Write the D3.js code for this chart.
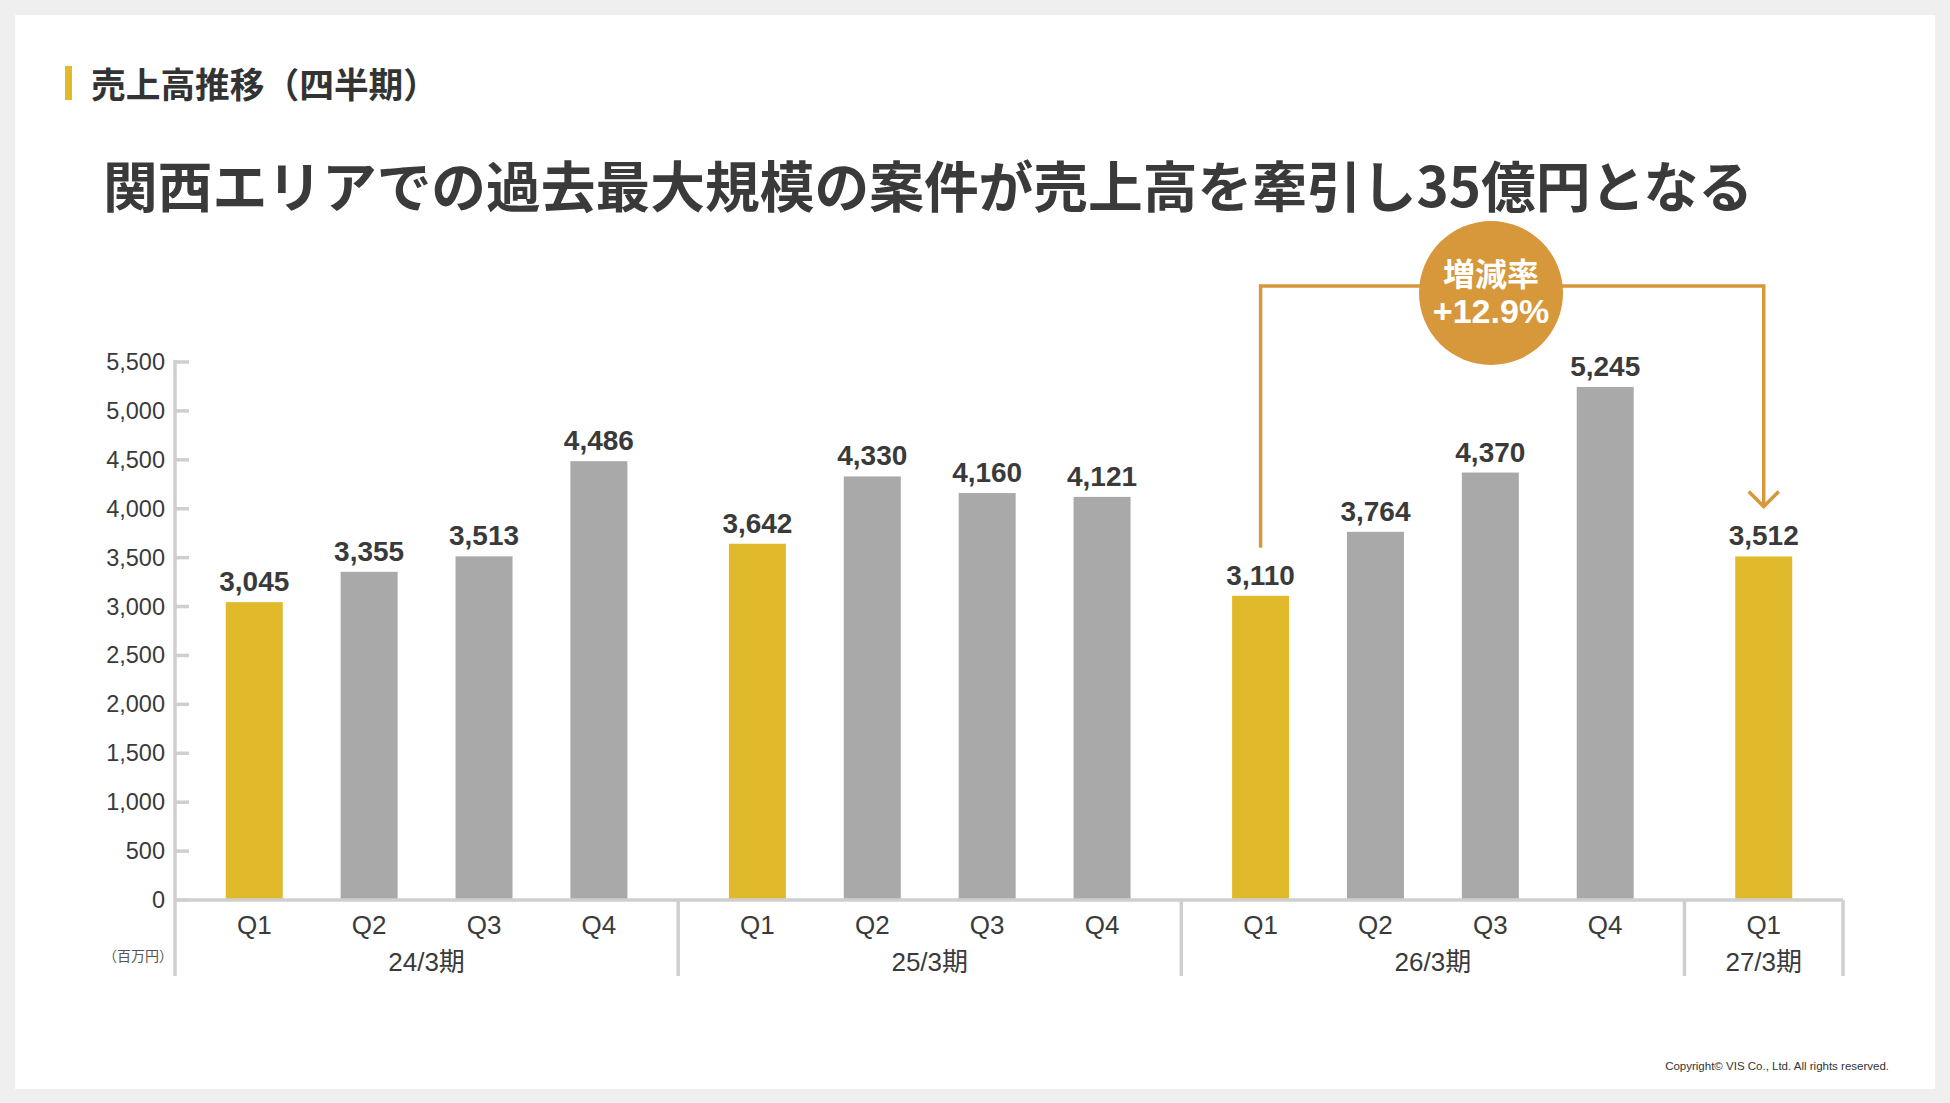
<!DOCTYPE html>
<html lang="ja">
<head>
<meta charset="UTF-8">
<title>売上高推移（四半期）</title>
<script src="https://d3js.org/d3.v7.min.js"></script>
<style>
  body { margin: 0; background: #efefef; }
  svg { display: block; }
  .jp { font-family: "Noto Sans CJK JP", sans-serif; }
  .num { font-family: "Liberation Sans", "Noto Sans CJK JP", sans-serif; }
</style>
</head>
<body>
<svg width="1950" height="1103"></svg>
<script>
// data
const fiscalYears = ["24/3期", "25/3期", "26/3期", "27/3期"];
const quarterCounts = [4, 4, 4, 1];
const quarterLabels = ["Q1", "Q2", "Q3", "Q4", "Q1", "Q2", "Q3", "Q4", "Q1", "Q2", "Q3", "Q4", "Q1"];
const salesValues = [3045, 3355, 3513, 4486, 3642, 4330, 4160, 4121, 3110, 3764, 4370, 5245, 3512];
const yTicks = [0, 500, 1000, 1500, 2000, 2500, 3000, 3500, 4000, 4500, 5000, 5500];
const growthRate = "+12.9%";

const yellow = "#e1ba2b", gray = "#a9a9a9", orange = "#d6983a", ink = "#3a3a3a", axisGray = "#cfcfcf";

const svg = d3.select("svg");

// card
svg.append("rect").attr("x", 15).attr("y", 15).attr("width", 1920).attr("height", 1074).attr("fill", "#fff");

// section header
svg.append("rect").attr("x", 65).attr("y", 66).attr("width", 7).attr("height", 34).attr("fill", yellow);
svg.append("text").attr("class", "jp").attr("x", 91).attr("y", 98)
  .attr("font-size", 35).attr("font-weight", 700).attr("fill", "#333")
  .attr("textLength", 347).attr("lengthAdjust", "spacingAndGlyphs")
  .text("売上高推移（四半期）");

// headline
svg.append("text").attr("class", "jp").attr("x", 103).attr("y", 207)
  .attr("font-size", 55).attr("font-weight", 700).attr("fill", ink)
  .attr("textLength", 1650).attr("lengthAdjust", "spacingAndGlyphs")
  .text("関西エリアでの過去最大規模の案件が売上高を牽引し35億円となる");

// scales
const pad = 0.19;
const groupStart = [];
let acc = 0;
quarterCounts.forEach(n => { groupStart.push(acc); acc += n + 2 * pad; });
const totalUnits = acc;

const x = d3.scaleLinear().domain([0, totalUnits]).range([175, 1843]);
const y = d3.scaleLinear().domain([0, 5500]).range([900, 362]);

const bars = [];
let idx = 0;
quarterCounts.forEach((n, g) => {
  for (let k = 0; k < n; k++) {
    bars.push({
      value: salesValues[idx],
      quarter: quarterLabels[idx],
      group: g,
      center: groupStart[g] + pad + k + 0.5
    });
    idx++;
  }
});

const barW = 57;

// y axis
const yAxis = svg.append("g");
yAxis.append("line").attr("x1", 175).attr("x2", 175).attr("y1", 360).attr("y2", 976)
  .attr("stroke", axisGray).attr("stroke-width", 3.5);
yAxis.selectAll(".tick").data(yTicks).enter().append("line")
  .attr("x1", 175).attr("x2", 189)
  .attr("y1", d => y(d)).attr("y2", d => y(d))
  .attr("stroke", axisGray).attr("stroke-width", 3.5);
yAxis.selectAll(".tl").data(yTicks).enter().append("text")
  .attr("class", "num").attr("x", 165).attr("y", d => y(d) + 8)
  .attr("text-anchor", "end").attr("font-size", 23.5).attr("fill", ink)
  .text(d => d3.format(",")(d));

svg.append("text").attr("class", "jp").attr("x", 103).attr("y", 961)
  .attr("font-size", 14).attr("fill", "#555").text("（百万円）");

// bars
svg.selectAll(".bar").data(bars).enter().append("rect")
  .attr("x", d => x(d.center) - barW / 2)
  .attr("y", d => y(d.value))
  .attr("width", barW)
  .attr("height", d => y(0) - y(d.value))
  .attr("fill", d => d.quarter === "Q1" ? yellow : gray);

svg.selectAll(".val").data(bars).enter().append("text")
  .attr("class", "num")
  .attr("x", d => x(d.center)).attr("y", d => y(d.value) - 11)
  .attr("text-anchor", "middle").attr("font-size", 28).attr("font-weight", 700)
  .attr("fill", ink).text(d => d3.format(",")(d.value));

// x axis
svg.append("line").attr("x1", 175).attr("x2", x(totalUnits)).attr("y1", y(0)).attr("y2", y(0))
  .attr("stroke", axisGray).attr("stroke-width", 3.5);
const dividers = groupStart.slice(1).concat([totalUnits]);
svg.selectAll(".div").data(dividers).enter().append("line")
  .attr("x1", d => x(d)).attr("x2", d => x(d))
  .attr("y1", y(0)).attr("y2", 976)
  .attr("stroke", axisGray).attr("stroke-width", 3.5);

svg.selectAll(".ql").data(bars).enter().append("text")
  .attr("class", "num").attr("x", d => x(d.center)).attr("y", 934)
  .attr("text-anchor", "middle").attr("font-size", 26).attr("fill", ink)
  .text(d => d.quarter);

svg.selectAll(".gl").data(fiscalYears).enter().append("text")
  .attr("class", "num")
  .attr("x", (d, g) => x(groupStart[g] + (quarterCounts[g] + 2 * pad) / 2))
  .attr("y", 971)
  .attr("text-anchor", "middle").attr("font-size", 26).attr("fill", ink)
  .text(d => d);

// growth bracket 26/3 Q1 -> 27/3 Q1
const from = bars[8], to = bars[12];
const x0 = x(from.center), x1 = x(to.center);
const topY = 286;
const fromY = y(from.value) - 48;
const toY = y(to.value) - 50;
svg.append("path")
  .attr("d", `M${x0},${fromY} V${topY} H${x1} V${toY}`)
  .attr("fill", "none").attr("stroke", orange).attr("stroke-width", 3.5);
svg.append("path")
  .attr("d", `M${x1 - 15},${toY - 15} L${x1},${toY} L${x1 + 15},${toY - 15}`)
  .attr("fill", "none").attr("stroke", orange).attr("stroke-width", 3.5);

const cx = 1491, cy = 293;
svg.append("circle").attr("cx", cx).attr("cy", cy).attr("r", 72).attr("fill", orange);
svg.append("text").attr("class", "jp").attr("x", cx).attr("y", cy - 7)
  .attr("text-anchor", "middle").attr("font-size", 32).attr("font-weight", 700).attr("fill", "#fff")
  .text("増減率");
svg.append("text").attr("class", "num").attr("x", cx).attr("y", cy + 30)
  .attr("text-anchor", "middle").attr("font-size", 34).attr("font-weight", 700).attr("fill", "#fff")
  .text(growthRate);

// footer
svg.append("text").attr("class", "num").attr("x", 1889).attr("y", 1070)
  .attr("text-anchor", "end").attr("font-size", 11.5).attr("fill", "#333")
  .text("Copyright© VIS Co., Ltd. All rights reserved.");
</script>
</body>
</html>
